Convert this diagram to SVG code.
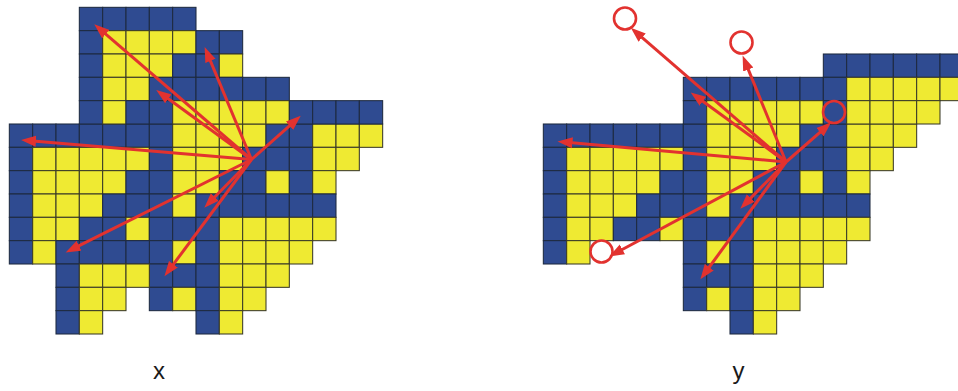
<svg xmlns="http://www.w3.org/2000/svg" xmlns:xlink="http://www.w3.org/1999/xlink" width="958" height="391" viewBox="0 0 958 391">
<style>
.b{fill:#2f4b91;stroke:#1e2a40;stroke-width:0.045}
.y{fill:#efea32;stroke:#3a3a28;stroke-width:0.045}
.arr{stroke:#e2322f;stroke-width:3;fill:none;marker-end:url(#ah)}
.ring{stroke:#e2322f;stroke-width:2.6;fill:none}
.lbl{font-family:"Liberation Sans",Arial,sans-serif;font-size:24px;fill:#1a1a1a;text-anchor:middle}
</style>
<defs>
<marker id="ah" markerUnits="userSpaceOnUse" markerWidth="16" markerHeight="12" refX="6" refY="6" orient="auto">
<path d="M0,0.5 L15,6 L0,11.5 z" fill="#e2322f"/>
</marker>
<g id="mid">
<rect class="b" x="0" y="5" width="1" height="1"/><rect class="b" x="1" y="5" width="1" height="1"/><rect class="b" x="2" y="5" width="1" height="1"/><rect class="b" x="3" y="5" width="1" height="1"/><rect class="b" x="4" y="5" width="1" height="1"/><rect class="b" x="5" y="5" width="1" height="1"/><rect class="b" x="6" y="5" width="1" height="1"/><rect class="y" x="7" y="5" width="1" height="1"/><rect class="y" x="8" y="5" width="1" height="1"/><rect class="y" x="9" y="5" width="1" height="1"/><rect class="y" x="10" y="5" width="1" height="1"/><rect class="b" x="11" y="5" width="1" height="1"/><rect class="b" x="12" y="5" width="1" height="1"/><rect class="y" x="13" y="5" width="1" height="1"/><rect class="y" x="14" y="5" width="1" height="1"/><rect class="y" x="15" y="5" width="1" height="1"/>
<rect class="b" x="0" y="6" width="1" height="1"/><rect class="y" x="1" y="6" width="1" height="1"/><rect class="y" x="2" y="6" width="1" height="1"/><rect class="y" x="3" y="6" width="1" height="1"/><rect class="y" x="4" y="6" width="1" height="1"/><rect class="y" x="5" y="6" width="1" height="1"/><rect class="b" x="6" y="6" width="1" height="1"/><rect class="y" x="7" y="6" width="1" height="1"/><rect class="y" x="8" y="6" width="1" height="1"/><rect class="y" x="9" y="6" width="1" height="1"/><rect class="b" x="10" y="6" width="1" height="1"/><rect class="b" x="11" y="6" width="1" height="1"/><rect class="b" x="12" y="6" width="1" height="1"/><rect class="y" x="13" y="6" width="1" height="1"/><rect class="y" x="14" y="6" width="1" height="1"/>
<rect class="b" x="0" y="7" width="1" height="1"/><rect class="y" x="1" y="7" width="1" height="1"/><rect class="y" x="2" y="7" width="1" height="1"/><rect class="y" x="3" y="7" width="1" height="1"/><rect class="y" x="4" y="7" width="1" height="1"/><rect class="b" x="5" y="7" width="1" height="1"/><rect class="b" x="6" y="7" width="1" height="1"/><rect class="y" x="7" y="7" width="1" height="1"/><rect class="y" x="8" y="7" width="1" height="1"/><rect class="b" x="9" y="7" width="1" height="1"/><rect class="b" x="10" y="7" width="1" height="1"/><rect class="y" x="11" y="7" width="1" height="1"/><rect class="b" x="12" y="7" width="1" height="1"/><rect class="y" x="13" y="7" width="1" height="1"/>
<rect class="b" x="0" y="8" width="1" height="1"/><rect class="y" x="1" y="8" width="1" height="1"/><rect class="y" x="2" y="8" width="1" height="1"/><rect class="y" x="3" y="8" width="1" height="1"/><rect class="b" x="4" y="8" width="1" height="1"/><rect class="b" x="5" y="8" width="1" height="1"/><rect class="b" x="6" y="8" width="1" height="1"/><rect class="y" x="7" y="8" width="1" height="1"/><rect class="b" x="8" y="8" width="1" height="1"/><rect class="b" x="9" y="8" width="1" height="1"/><rect class="b" x="10" y="8" width="1" height="1"/><rect class="b" x="11" y="8" width="1" height="1"/><rect class="b" x="12" y="8" width="1" height="1"/><rect class="b" x="13" y="8" width="1" height="1"/>
<rect class="b" x="0" y="9" width="1" height="1"/><rect class="y" x="1" y="9" width="1" height="1"/><rect class="y" x="2" y="9" width="1" height="1"/><rect class="b" x="3" y="9" width="1" height="1"/><rect class="b" x="4" y="9" width="1" height="1"/><rect class="y" x="5" y="9" width="1" height="1"/><rect class="b" x="6" y="9" width="1" height="1"/><rect class="b" x="7" y="9" width="1" height="1"/><rect class="b" x="8" y="9" width="1" height="1"/><rect class="y" x="9" y="9" width="1" height="1"/><rect class="y" x="10" y="9" width="1" height="1"/><rect class="y" x="11" y="9" width="1" height="1"/><rect class="y" x="12" y="9" width="1" height="1"/><rect class="y" x="13" y="9" width="1" height="1"/>
<rect class="b" x="0" y="10" width="1" height="1"/><rect class="y" x="1" y="10" width="1" height="1"/><rect class="b" x="6" y="10" width="1" height="1"/><rect class="y" x="7" y="10" width="1" height="1"/><rect class="b" x="8" y="10" width="1" height="1"/><rect class="y" x="9" y="10" width="1" height="1"/><rect class="y" x="10" y="10" width="1" height="1"/><rect class="y" x="11" y="10" width="1" height="1"/><rect class="y" x="12" y="10" width="1" height="1"/>
<rect class="b" x="6" y="11" width="1" height="1"/><rect class="b" x="7" y="11" width="1" height="1"/><rect class="b" x="8" y="11" width="1" height="1"/><rect class="y" x="9" y="11" width="1" height="1"/><rect class="y" x="10" y="11" width="1" height="1"/><rect class="y" x="11" y="11" width="1" height="1"/>
<rect class="b" x="6" y="12" width="1" height="1"/><rect class="y" x="7" y="12" width="1" height="1"/><rect class="b" x="8" y="12" width="1" height="1"/><rect class="y" x="9" y="12" width="1" height="1"/><rect class="y" x="10" y="12" width="1" height="1"/>
<rect class="b" x="8" y="13" width="1" height="1"/><rect class="y" x="9" y="13" width="1" height="1"/>
</g>
</defs>

<g id="grid-x" transform="translate(9.333,7.333) scale(23.333)">
<use xlink:href="#mid" href="#mid"/>
<rect class="b" x="3" y="0" width="1" height="1"/><rect class="b" x="4" y="0" width="1" height="1"/><rect class="b" x="5" y="0" width="1" height="1"/><rect class="b" x="6" y="0" width="1" height="1"/><rect class="b" x="7" y="0" width="1" height="1"/>
<rect class="b" x="3" y="1" width="1" height="1"/><rect class="y" x="4" y="1" width="1" height="1"/><rect class="y" x="5" y="1" width="1" height="1"/><rect class="y" x="6" y="1" width="1" height="1"/><rect class="y" x="7" y="1" width="1" height="1"/><rect class="b" x="8" y="1" width="1" height="1"/><rect class="b" x="9" y="1" width="1" height="1"/>
<rect class="b" x="3" y="2" width="1" height="1"/><rect class="y" x="4" y="2" width="1" height="1"/><rect class="y" x="5" y="2" width="1" height="1"/><rect class="y" x="6" y="2" width="1" height="1"/><rect class="b" x="7" y="2" width="1" height="1"/><rect class="b" x="8" y="2" width="1" height="1"/><rect class="y" x="9" y="2" width="1" height="1"/>
<rect class="b" x="3" y="3" width="1" height="1"/><rect class="y" x="4" y="3" width="1" height="1"/><rect class="y" x="5" y="3" width="1" height="1"/><rect class="b" x="6" y="3" width="1" height="1"/><rect class="b" x="7" y="3" width="1" height="1"/><rect class="b" x="8" y="3" width="1" height="1"/><rect class="b" x="9" y="3" width="1" height="1"/><rect class="b" x="10" y="3" width="1" height="1"/><rect class="b" x="11" y="3" width="1" height="1"/>
<rect class="b" x="3" y="4" width="1" height="1"/><rect class="y" x="4" y="4" width="1" height="1"/><rect class="b" x="5" y="4" width="1" height="1"/><rect class="b" x="6" y="4" width="1" height="1"/><rect class="y" x="7" y="4" width="1" height="1"/><rect class="y" x="8" y="4" width="1" height="1"/><rect class="y" x="9" y="4" width="1" height="1"/><rect class="y" x="10" y="4" width="1" height="1"/><rect class="y" x="11" y="4" width="1" height="1"/><rect class="b" x="12" y="4" width="1" height="1"/><rect class="b" x="13" y="4" width="1" height="1"/><rect class="b" x="14" y="4" width="1" height="1"/><rect class="b" x="15" y="4" width="1" height="1"/>
<rect class="b" x="2" y="10" width="1" height="1"/><rect class="b" x="3" y="10" width="1" height="1"/><rect class="b" x="4" y="10" width="1" height="1"/><rect class="b" x="5" y="10" width="1" height="1"/>
<rect class="b" x="2" y="11" width="1" height="1"/><rect class="y" x="3" y="11" width="1" height="1"/><rect class="y" x="4" y="11" width="1" height="1"/><rect class="y" x="5" y="11" width="1" height="1"/>
<rect class="b" x="2" y="12" width="1" height="1"/><rect class="y" x="3" y="12" width="1" height="1"/><rect class="y" x="4" y="12" width="1" height="1"/>
<rect class="b" x="2" y="13" width="1" height="1"/><rect class="y" x="3" y="13" width="1" height="1"/>
</g>

<g id="grid-y" transform="translate(543.333,7.333) scale(23.333)">
<use xlink:href="#mid" href="#mid"/>
<rect class="b" x="12" y="2" width="1" height="1"/><rect class="b" x="13" y="2" width="1" height="1"/><rect class="b" x="14" y="2" width="1" height="1"/><rect class="b" x="15" y="2" width="1" height="1"/><rect class="b" x="16" y="2" width="1" height="1"/><rect class="b" x="17" y="2" width="1" height="1"/>
<rect class="b" x="6" y="3" width="1" height="1"/><rect class="b" x="7" y="3" width="1" height="1"/><rect class="b" x="8" y="3" width="1" height="1"/><rect class="b" x="9" y="3" width="1" height="1"/><rect class="b" x="10" y="3" width="1" height="1"/><rect class="b" x="11" y="3" width="1" height="1"/><rect class="b" x="12" y="3" width="1" height="1"/><rect class="y" x="13" y="3" width="1" height="1"/><rect class="y" x="14" y="3" width="1" height="1"/><rect class="y" x="15" y="3" width="1" height="1"/><rect class="y" x="16" y="3" width="1" height="1"/><rect class="y" x="17" y="3" width="1" height="1"/>
<rect class="b" x="6" y="4" width="1" height="1"/><rect class="y" x="7" y="4" width="1" height="1"/><rect class="y" x="8" y="4" width="1" height="1"/><rect class="y" x="9" y="4" width="1" height="1"/><rect class="y" x="10" y="4" width="1" height="1"/><rect class="y" x="11" y="4" width="1" height="1"/><rect class="b" x="12" y="4" width="1" height="1"/><rect class="y" x="13" y="4" width="1" height="1"/><rect class="y" x="14" y="4" width="1" height="1"/><rect class="y" x="15" y="4" width="1" height="1"/><rect class="y" x="16" y="4" width="1" height="1"/>
</g>

<g id="connectors">
<line class="arr" x1="251.5" y1="159.5" x2="101.1" y2="30.2"/>
<line class="arr" x1="251.5" y1="159.5" x2="163.5" y2="95.2"/>
<line class="arr" x1="251.5" y1="159.5" x2="30" y2="140.7"/>
<line class="arr" x1="251.5" y1="159.5" x2="208.1" y2="55.4"/>
<line class="arr" x1="251.5" y1="159.5" x2="294" y2="121.8"/>
<line class="arr" x1="251.5" y1="159.5" x2="73.7" y2="248.4"/>
<line class="arr" x1="251.5" y1="159.5" x2="169.8" y2="269.1"/>
<line class="arr" x1="251.5" y1="159.5" x2="210.6" y2="201.3"/>
<line class="arr" x1="786" y1="162" x2="637.6" y2="33.7"/>
<line class="arr" x1="786" y1="162" x2="698" y2="97.7"/>
<line class="arr" x1="786" y1="162" x2="746" y2="63.9"/>
<line class="arr" x1="786" y1="162" x2="824.5" y2="128.3"/>
<line class="arr" x1="786" y1="162" x2="566.5" y2="142.2"/>
<line class="arr" x1="786" y1="162" x2="617.1" y2="252.2"/>
<line class="arr" x1="786" y1="162" x2="705.7" y2="272"/>
<line class="arr" x1="786" y1="162" x2="746.6" y2="202.3"/>
</g>

<g id="rings">
<circle class="ring" cx="625" cy="18.5" r="11"/>
<circle class="ring" cx="741.5" cy="42.5" r="11"/>
<circle class="ring" cx="834" cy="112" r="11"/>
<circle class="ring" cx="601.5" cy="251.5" r="11"/>
</g>

<g id="labels">
<text class="lbl" x="159" y="379">x</text>
<text class="lbl" x="738.5" y="379">y</text>
</g>
</svg>
